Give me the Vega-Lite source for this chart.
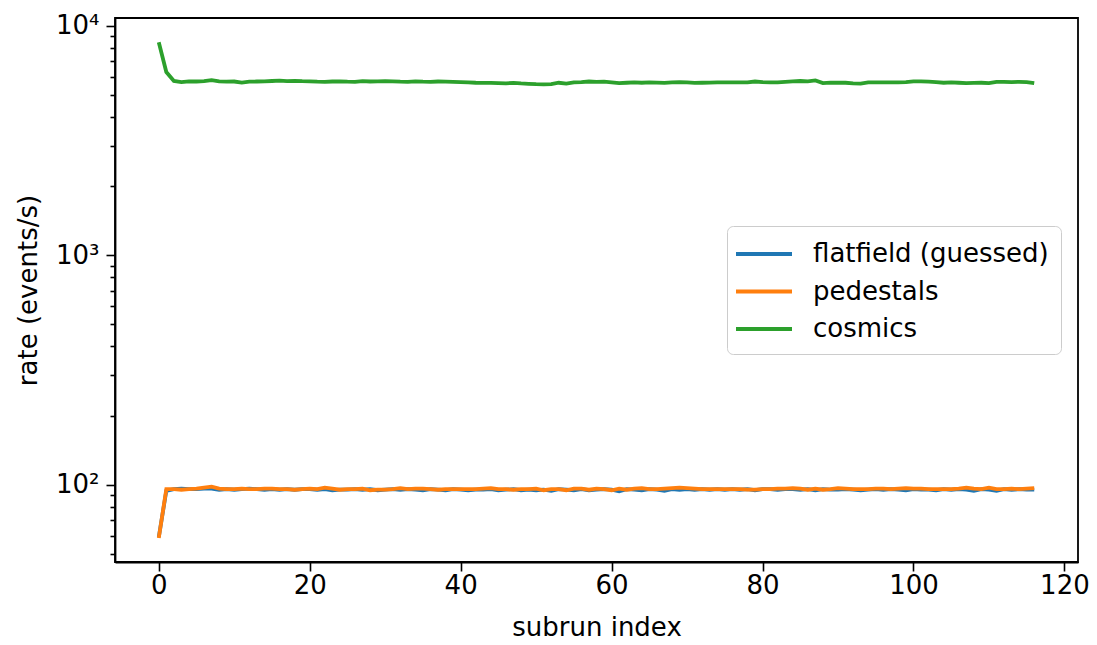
{
  "$schema": "https://vega.github.io/schema/vega-lite/v6.json",
  "width": 963,
  "height": 544,
  "autosize": {"type": "none"},
  "padding": {"left": 115, "top": 18, "right": 19, "bottom": 83},
  "background": "white",
  "config": {
    "font": "DejaVu Sans",
    "view": {"stroke": "black", "strokeWidth": 1.8},
    "axis": {"grid": false, "domainColor": "black", "domainWidth": 1.8, "tickColor": "black", "tickWidth": 1.6, "labelColor": "black", "titleColor": "black", "labelFont": "DejaVu Sans", "titleFont": "DejaVu Sans", "labelFontSize": 26, "titleFontSize": 26, "titleFontWeight": "normal"}
  },
  "data": {"values": [
    {"x":0,"flatfield":59,"pedestals":58.5,"cosmics":8470},
    {"x":1,"flatfield":94,"pedestals":95.5,"cosmics":6280},
    {"x":2,"flatfield":95.5,"pedestals":95.5,"cosmics":5740},
    {"x":3,"flatfield":96,"pedestals":95,"cosmics":5680},
    {"x":4,"flatfield":95.5,"pedestals":95.5,"cosmics":5720},
    {"x":5,"flatfield":95.5,"pedestals":96,"cosmics":5710},
    {"x":6,"flatfield":96,"pedestals":97,"cosmics":5730},
    {"x":7,"flatfield":96,"pedestals":98,"cosmics":5790},
    {"x":8,"flatfield":95,"pedestals":96,"cosmics":5720},
    {"x":9,"flatfield":95.5,"pedestals":95.5,"cosmics":5700},
    {"x":10,"flatfield":95,"pedestals":95.5,"cosmics":5710},
    {"x":11,"flatfield":95.5,"pedestals":96,"cosmics":5650},
    {"x":12,"flatfield":96,"pedestals":95.5,"cosmics":5700},
    {"x":13,"flatfield":95.5,"pedestals":95.5,"cosmics":5710},
    {"x":14,"flatfield":95,"pedestals":96,"cosmics":5720},
    {"x":15,"flatfield":95.5,"pedestals":96,"cosmics":5740},
    {"x":16,"flatfield":95,"pedestals":95.5,"cosmics":5760},
    {"x":17,"flatfield":95.5,"pedestals":95.5,"cosmics":5730},
    {"x":18,"flatfield":95,"pedestals":95,"cosmics":5750},
    {"x":19,"flatfield":95.5,"pedestals":95.5,"cosmics":5730},
    {"x":20,"flatfield":95.5,"pedestals":96,"cosmics":5720},
    {"x":21,"flatfield":95,"pedestals":95.5,"cosmics":5700},
    {"x":22,"flatfield":95.5,"pedestals":97,"cosmics":5690},
    {"x":23,"flatfield":94.5,"pedestals":96,"cosmics":5710},
    {"x":24,"flatfield":95,"pedestals":95,"cosmics":5720},
    {"x":25,"flatfield":95,"pedestals":95.5,"cosmics":5700},
    {"x":26,"flatfield":95.5,"pedestals":95.5,"cosmics":5690},
    {"x":27,"flatfield":95,"pedestals":96,"cosmics":5730},
    {"x":28,"flatfield":95.5,"pedestals":94.5,"cosmics":5710},
    {"x":29,"flatfield":94.5,"pedestals":95,"cosmics":5720},
    {"x":30,"flatfield":95,"pedestals":95,"cosmics":5730},
    {"x":31,"flatfield":95.5,"pedestals":95.5,"cosmics":5720},
    {"x":32,"flatfield":95,"pedestals":96.5,"cosmics":5700},
    {"x":33,"flatfield":95.5,"pedestals":95.5,"cosmics":5690},
    {"x":34,"flatfield":95,"pedestals":96,"cosmics":5720},
    {"x":35,"flatfield":94.5,"pedestals":96,"cosmics":5700},
    {"x":36,"flatfield":95.5,"pedestals":95.5,"cosmics":5690},
    {"x":37,"flatfield":95,"pedestals":95,"cosmics":5710},
    {"x":38,"flatfield":94.5,"pedestals":95.5,"cosmics":5700},
    {"x":39,"flatfield":95.5,"pedestals":95.5,"cosmics":5690},
    {"x":40,"flatfield":95,"pedestals":95.5,"cosmics":5680},
    {"x":41,"flatfield":94.5,"pedestals":95.5,"cosmics":5660},
    {"x":42,"flatfield":95,"pedestals":95.5,"cosmics":5640},
    {"x":43,"flatfield":95,"pedestals":96,"cosmics":5630},
    {"x":44,"flatfield":95.5,"pedestals":96.5,"cosmics":5630},
    {"x":45,"flatfield":94.5,"pedestals":95.5,"cosmics":5620},
    {"x":46,"flatfield":95,"pedestals":95.5,"cosmics":5610},
    {"x":47,"flatfield":95.5,"pedestals":95,"cosmics":5630},
    {"x":48,"flatfield":94.5,"pedestals":95.5,"cosmics":5600},
    {"x":49,"flatfield":95,"pedestals":95.5,"cosmics":5580},
    {"x":50,"flatfield":94.5,"pedestals":96,"cosmics":5560},
    {"x":51,"flatfield":95,"pedestals":94.5,"cosmics":5550},
    {"x":52,"flatfield":94,"pedestals":95.5,"cosmics":5560},
    {"x":53,"flatfield":95.5,"pedestals":95.5,"cosmics":5640},
    {"x":54,"flatfield":95,"pedestals":94.5,"cosmics":5590},
    {"x":55,"flatfield":94.5,"pedestals":96,"cosmics":5660},
    {"x":56,"flatfield":95.5,"pedestals":96,"cosmics":5680},
    {"x":57,"flatfield":94.5,"pedestals":95,"cosmics":5710},
    {"x":58,"flatfield":95,"pedestals":96,"cosmics":5690},
    {"x":59,"flatfield":95.5,"pedestals":95.5,"cosmics":5700},
    {"x":60,"flatfield":95,"pedestals":94.5,"cosmics":5660},
    {"x":61,"flatfield":93.5,"pedestals":96,"cosmics":5620},
    {"x":62,"flatfield":95.5,"pedestals":95,"cosmics":5640},
    {"x":63,"flatfield":95,"pedestals":96,"cosmics":5660},
    {"x":64,"flatfield":94.5,"pedestals":96.5,"cosmics":5640},
    {"x":65,"flatfield":95.5,"pedestals":95.5,"cosmics":5660},
    {"x":66,"flatfield":95,"pedestals":95.5,"cosmics":5650},
    {"x":67,"flatfield":94,"pedestals":96,"cosmics":5630},
    {"x":68,"flatfield":95.5,"pedestals":96.5,"cosmics":5660},
    {"x":69,"flatfield":95,"pedestals":97,"cosmics":5680},
    {"x":70,"flatfield":95.5,"pedestals":96.5,"cosmics":5660},
    {"x":71,"flatfield":95,"pedestals":96,"cosmics":5630},
    {"x":72,"flatfield":95.5,"pedestals":95.5,"cosmics":5640},
    {"x":73,"flatfield":95,"pedestals":95.5,"cosmics":5650},
    {"x":74,"flatfield":95.5,"pedestals":95.5,"cosmics":5660},
    {"x":75,"flatfield":95,"pedestals":95.5,"cosmics":5660},
    {"x":76,"flatfield":95.5,"pedestals":95.5,"cosmics":5660},
    {"x":77,"flatfield":95,"pedestals":95.5,"cosmics":5660},
    {"x":78,"flatfield":95.5,"pedestals":95,"cosmics":5660},
    {"x":79,"flatfield":94.5,"pedestals":95,"cosmics":5710},
    {"x":80,"flatfield":95.5,"pedestals":95.5,"cosmics":5680},
    {"x":81,"flatfield":95.5,"pedestals":95.5,"cosmics":5660},
    {"x":82,"flatfield":95,"pedestals":96,"cosmics":5660},
    {"x":83,"flatfield":95.5,"pedestals":96,"cosmics":5690},
    {"x":84,"flatfield":95.5,"pedestals":96.5,"cosmics":5720},
    {"x":85,"flatfield":95,"pedestals":96,"cosmics":5740},
    {"x":86,"flatfield":95.5,"pedestals":95,"cosmics":5720},
    {"x":87,"flatfield":94.5,"pedestals":96,"cosmics":5770},
    {"x":88,"flatfield":95.5,"pedestals":95,"cosmics":5620},
    {"x":89,"flatfield":95,"pedestals":95.5,"cosmics":5650},
    {"x":90,"flatfield":95,"pedestals":96.5,"cosmics":5640},
    {"x":91,"flatfield":95.5,"pedestals":96,"cosmics":5640},
    {"x":92,"flatfield":95,"pedestals":95.5,"cosmics":5610},
    {"x":93,"flatfield":94.5,"pedestals":95.5,"cosmics":5590},
    {"x":94,"flatfield":95,"pedestals":95.5,"cosmics":5660},
    {"x":95,"flatfield":95.5,"pedestals":96,"cosmics":5660},
    {"x":96,"flatfield":95,"pedestals":96,"cosmics":5660},
    {"x":97,"flatfield":95.5,"pedestals":95.5,"cosmics":5660},
    {"x":98,"flatfield":95,"pedestals":96,"cosmics":5660},
    {"x":99,"flatfield":94.5,"pedestals":96.5,"cosmics":5680},
    {"x":100,"flatfield":95.5,"pedestals":96,"cosmics":5720},
    {"x":101,"flatfield":95,"pedestals":96,"cosmics":5720},
    {"x":102,"flatfield":95,"pedestals":95.5,"cosmics":5700},
    {"x":103,"flatfield":94.5,"pedestals":95.5,"cosmics":5670},
    {"x":104,"flatfield":95.5,"pedestals":95.5,"cosmics":5640},
    {"x":105,"flatfield":95,"pedestals":95.5,"cosmics":5660},
    {"x":106,"flatfield":95.5,"pedestals":96,"cosmics":5640},
    {"x":107,"flatfield":95,"pedestals":97,"cosmics":5620},
    {"x":108,"flatfield":94,"pedestals":96,"cosmics":5630},
    {"x":109,"flatfield":95.5,"pedestals":95.5,"cosmics":5640},
    {"x":110,"flatfield":95,"pedestals":97,"cosmics":5620},
    {"x":111,"flatfield":94,"pedestals":95.5,"cosmics":5690},
    {"x":112,"flatfield":95.5,"pedestals":95.5,"cosmics":5690},
    {"x":113,"flatfield":95,"pedestals":96,"cosmics":5680},
    {"x":114,"flatfield":95.5,"pedestals":95.5,"cosmics":5690},
    {"x":115,"flatfield":95,"pedestals":96,"cosmics":5680},
    {"x":116,"flatfield":95,"pedestals":96.5,"cosmics":5620}
  ]},
  "transform": [{"fold": ["flatfield", "pedestals", "cosmics"], "as": ["series", "rate"]}],
  "layer": [
    {
      "mark": {"type": "line", "strokeWidth": 3.8, "clip": true},
      "encoding": {
        "x": {"field": "x", "type": "quantitative", "scale": {"domain": [-5.8, 121.8], "nice": false, "zero": false},
          "axis": {"values": [0, 20, 40, 60, 80, 100, 120], "tickSize": 9, "labelPadding": 1, "title": "subrun index", "titlePadding": 16}},
        "y": {"field": "rate", "type": "quantitative", "scale": {"type": "log", "domain": [46, 10800], "nice": false},
          "axis": {"orient": "left", "values": [100, 1000, 10000], "labelExpr": "datum.value == 100 ? '10²' : datum.value == 1000 ? '10³' : '10⁴'", "tickSize": 9, "labelPadding": 7, "title": "rate (events/s)", "titlePadding": 14}},
        "color": {"field": "series", "type": "nominal",
          "scale": {"domain": ["flatfield", "pedestals", "cosmics"], "range": ["#1f77b4", "#ff7f0e", "#2ca02c"]},
          "legend": {"title": null, "orient": "none", "legendX": 612, "legendY": 208,
            "labelExpr": "datum.label == 'flatfield' ? 'flatfield (guessed)' : datum.label",
            "labelFontSize": 26, "labelColor": "black", "labelFont": "DejaVu Sans", "labelLimit": 500,
            "symbolType": "M-2,0H2", "symbolSize": 784, "symbolStrokeWidth": 3.8, "symbolOffset": 9,
            "labelOffset": 33, "rowPadding": 8.5, "padding": 12,
            "strokeColor": "#cccccc", "fillColor": "rgba(255,255,255,0.8)", "cornerRadius": 6}}
      }
    },
    {
      "mark": {"type": "line", "opacity": 0},
      "encoding": {
        "x": {"field": "x", "type": "quantitative"},
        "y": {"field": "rate", "type": "quantitative",
          "axis": {"orient": "left", "values": [50, 60, 70, 80, 90, 200, 300, 400, 500, 600, 700, 800, 900, 2000, 3000, 4000, 5000, 6000, 7000, 8000, 9000], "labels": false, "domain": false, "tickSize": 5, "title": null}},
        "detail": {"field": "series"}
      }
    }
  ],
  "resolve": {"axis": {"y": "independent"}}
}
